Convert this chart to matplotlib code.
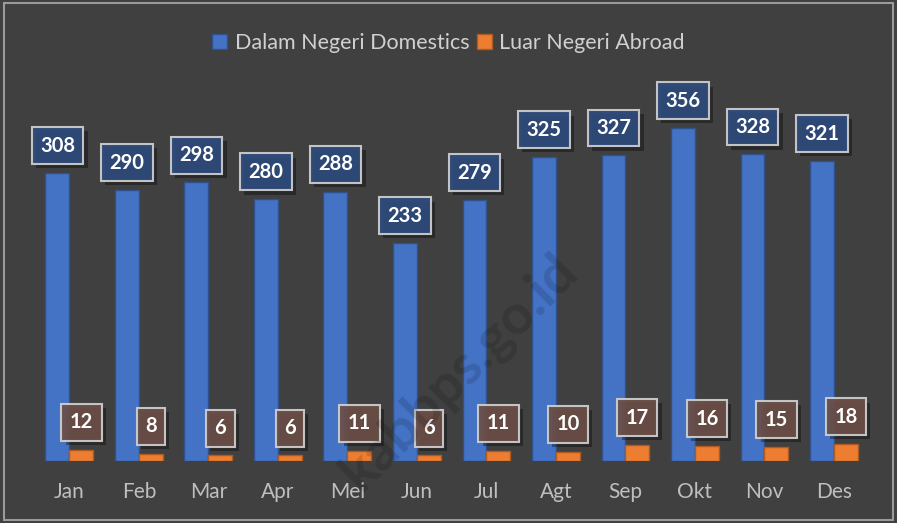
import matplotlib
matplotlib.use('Agg')
import matplotlib.pyplot as plt
import matplotlib.patheffects as pe
from matplotlib.patches import Rectangle
import numpy as np

# Data
months = ['Jan', 'Feb', 'Mar', 'Apr', 'Mei', 'Jun', 'Jul', 'Agt', 'Sep', 'Okt', 'Nov', 'Des']
domestics = [308, 290, 298, 280, 288, 233, 279, 325, 327, 356, 328, 321]
abroad = [12, 8, 6, 6, 11, 6, 11, 10, 17, 16, 15, 18]
series_names = ['Dalam Negeri Domestics', 'Luar Negeri Abroad']

bg = '#404040'
plt.rcParams['font.family'] = ['Lato', 'DejaVu Sans']

fig = plt.figure(figsize=(8.97, 5.23), dpi=100, facecolor=bg)
ax = fig.add_axes([0.0387, 0.1185, 0.9298, 0.715])
ax.set_facecolor(bg)

x = np.arange(len(months))
w = 0.345
shadow = [pe.SimplePatchShadow(offset=(3, -3), shadow_rgbFace='black', alpha=0.35), pe.Normal()]

b1 = ax.bar(x - w / 2, domestics, w, color='#4472C4', edgecolor='#2F528F', linewidth=1,
            label=series_names[0], zorder=2)
b2 = ax.bar(x + w / 2, abroad, w, color='#ED7D31', edgecolor='#AE5A21', linewidth=1,
            label=series_names[1], zorder=2)


def add_labels(xs, vals, face):
    for xi, v in zip(xs, vals):
        t = ax.annotate(str(v), (xi, v), xytext=(0, 12.5), textcoords='offset points',
                        ha='center', va='bottom', color='white', fontsize=14.5,
                        fontweight='bold', zorder=5,
                        bbox=dict(boxstyle='square,pad=0.42', fc=face, ec='#D0D0D0', lw=1.5, alpha=0.92))
        t.get_bbox_patch().set_path_effects(shadow)


add_labels(x - w / 2, domestics, '#2F4B7D')
add_labels(x + w / 2, abroad, '#6B4F47')

ax.set_xlim(-0.5, len(months) - 0.5)
ax.set_ylim(0, 400)
ax.set_xticks(x)
ax.set_xticklabels(months, color='#BFBFBF', fontsize=15)
ax.tick_params(axis='x', length=0, pad=15)
ax.set_yticks([])
for s in ax.spines.values():
    s.set_visible(False)

leg = fig.legend(handles=[b1, b2], loc='center', bbox_to_anchor=(0.5, 0.918), ncol=2,
                 frameon=False, fontsize=15.5, labelcolor='#D0D0D0', handlelength=0.7,
                 handleheight=0.7, handletextpad=0.35, columnspacing=0.35)

# watermark
fig.text(0.512, 0.29, 'kabbps.go.id', rotation=45, ha='center', va='center', fontsize=40,
         fontweight='bold', color='black', alpha=0.13, zorder=10)

# outer border
fig.patches.append(Rectangle((0.004, 0.006), 0.992, 0.988, transform=fig.transFigure,
                             fill=False, ec='#9A9A9A', lw=1.5))

plt.savefig('out.png', dpi=100, facecolor=bg)
plt.close()
